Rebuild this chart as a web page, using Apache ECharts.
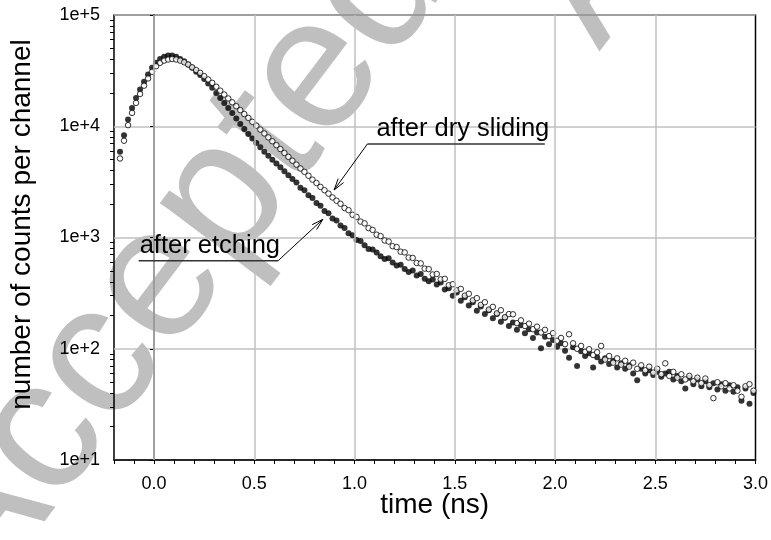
<!DOCTYPE html>
<html>
<head>
<meta charset="utf-8">
<script src="https://cdn.jsdelivr.net/npm/echarts@6/dist/echarts.min.js"></script>
<style>html,body{margin:0;padding:0;background:#fff;}#chart{width:771px;height:540px;}</style>
</head>
<body>
<div id="chart"></div>
<script>
// channel times (ns): first channel and channel width
var T0 = -0.17, DT = 0.02;
// after etching (filled dots), counts per channel
var etching = [5890,8318,11482,14620,17990,21380,25120,29170,33500,37150,
40270,42170,43150,43150,42170,40270,38460,35890,33500,30900,
28840,26610,24270,22130,19950,17990,16220,14620,13180,11750,
10470,9440,8510,7760,7080,6460,5890,5430,5010,4620,
4270,3940,3630,3350,3120,2800,2660,2400,2270,2040,
1930,1730,1650,1480,1420,1280,1220,1090,1050,950,
930,850,790,780,735,680,640,650,595,560,
570,520,490,505,455,470,425,405,420,378,
395,340,350,300,320,270,290,245,262,220,
240,205,222,188,205,175,190,160,172,148,
163,138,150,125,140,101,128,110,120,104,
112,96,83,103,70,95,86,91,68,84,
77,82,73,78,68,74,66,71,60,52,
66,60,64,58,62,56,60,62,53,57,
51,44,55,48,53,46,51,45,49,43,
48,42,47,41,45,34,44,32,40];
// after dry sliding (open circles), counts per channel
var drySliding = [5130,7410,10230,13180,16220,19500,23170,26920,30900,34670,
37150,38900,39810,40270,39810,38900,37580,35890,33880,31990,
30200,28180,26300,24550,22650,20890,19280,17780,16410,15140,
13960,12880,11890,10960,10120,9330,8610,7940,7330,6760,
6240,5750,5310,4900,4520,4170,3890,3590,3310,3090,
2850,2660,2480,2290,2140,2010,1840,1760,1600,1530,
1390,1340,1215,1170,1060,1030,940,920,835,820,
745,735,660,655,590,585,525,520,465,470,
420,425,372,380,335,345,300,312,272,285,
248,262,225,238,208,222,192,205,204,170,
180,160,168,150,158,140,148,130,138,118,
125,110,135,112,100,106,94,99,88,93,
106,80,86,75,82,72,78,69,75,66,
71,64,69,61,66,59,74,57,62,55,
59,53,57,51,55,49,54,47,36,50,
46,49,44,47,42,37,46,48,42];
var xTicks = [0, 0.5, 1.0, 1.5, 2.0, 2.5, 3.0];
var yMinor = [20,30,40,50,60,70,80,90,200,300,400,500,600,700,800,900,2000,3000,4000,5000,6000,7000,8000,9000,20000,30000,40000,50000,60000,70000,80000,90000];
var labelEtching = 'after etching';
var labelDry = 'after dry sliding';
var watermark = 'Accepted Manuscript';

function pairs(arr){ return arr.map(function(v,i){ return [+(T0 + i*DT).toFixed(3), v]; }); }

var FONT = '"Liberation Sans", Arial, sans-serif';
var chart = echarts.init(document.getElementById('chart'), null, {renderer:'canvas'});
var option = {
  backgroundColor: '#fff',
  animation: false,
  grid: {left: 111, right: 14, top: 15, bottom: 80, show: true, borderColor: '#000', borderWidth: 1.5, backgroundColor: 'transparent'},
  xAxis: {
    type: 'value', min: -0.2, max: 3.0, interval: 0.1,
    name: 'time (ns)', nameLocation: 'middle', nameGap: 31, nameMoveOverlap: false,
    nameTextStyle: {fontFamily: FONT, fontSize: 28, color: '#000'},
    axisLine: {onZero: false, lineStyle: {color: '#000', width: 1.5}},
    axisTick: {show: true, length: 4, lineStyle: {color: '#000'}},
    axisLabel: {margin: 15, fontFamily: FONT, fontSize: 18, color: '#000',
      formatter: function(v){ var r = Math.round(v*10)/10; return xTicks.some(function(t){return Math.abs(t-r)<1e-6;}) ? r.toFixed(1) : ''; }},
    splitLine: {show: false}
  },
  yAxis: [{
    type: 'log', min: 10, max: 100000, logBase: 10,
    name: 'number of counts per channel', nameLocation: 'middle', nameGap: 78,
    nameTextStyle: {fontFamily: FONT, fontSize: 28, color: '#000', padding: [0, 0, 0, 26]},
    axisLine: {lineStyle: {color: '#000', width: 1.5}},
    axisTick: {show: true, length: 4, lineStyle: {color: '#000'}},
    axisLabel: {margin: 14, fontFamily: FONT, fontSize: 18, color: '#000',
      formatter: function(v){ return '1e+' + Math.round(Math.log10(v)); }},
    splitLine: {show: true, lineStyle: {color: '#c0c0c0', width: 1.5}}
  },{
    type: 'log', min: 10, max: 100000, logBase: 10, position: 'left',
    axisLine: {show: false}, axisLabel: {show: false}, splitLine: {show: false},
    axisTick: {show: true, length: 4, customValues: yMinor, lineStyle: {color: '#000'}}
  }],
  series: [{
    name: labelEtching, type: 'scatter', data: pairs(etching),
    symbol: 'circle', symbolSize: 6, itemStyle: {color: '#000'}, z: 3,
    markLine: {
      silent: true, symbol: 'none', label: {show: false},
      lineStyle: {color: '#c0c0c0', width: 1.5, type: 'solid'},
      data: xTicks.filter(function(t){return t < 3;}).map(function(t){ return {xAxis: t}; })
    }
  },{
    name: labelDry, type: 'scatter', data: pairs(drySliding),
    symbol: 'circle', symbolSize: 5.5, itemStyle: {color: '#fff', borderColor: '#000', borderWidth: 1}, z: 4
  }]
};
chart.setOption(option);

// annotations anchored in data space
var annDry = {text: labelDry, lineStart: [1.064, 6924], lineEnd: [1.949, 6924], tip: [0.898, 2673], dx: 8};
var annEt = {text: labelEtching, lineStart: [0.619, 619], lineEnd: [-0.077, 619], tip: [0.842, 1458], dx: 0};
function px(p){ return chart.convertToPixel({gridIndex: 0}, p); }
function arrowEls(a){
  var s = px(a.lineStart), e = px(a.lineEnd), t = px(a.tip);
  var ang = Math.atan2(s[1]-t[1], s[0]-t[0]);
  var L = 12, sp = 0.28;
  var a1 = [t[0] + L*Math.cos(ang+sp), t[1] + L*Math.sin(ang+sp)];
  var a2 = [t[0] + L*Math.cos(ang-sp), t[1] + L*Math.sin(ang-sp)];
  var left = Math.min(s[0], e[0]);
  return [
    {type:'line', shape:{x1:s[0],y1:s[1],x2:e[0],y2:e[1]}, style:{stroke:'#333', lineWidth:1.5}, z: 10},
    {type:'line', shape:{x1:s[0],y1:s[1],x2:t[0],y2:t[1]}, style:{stroke:'#000', lineWidth:1}, z: 10},
    {type:'polyline', shape:{points:[a1, t, a2]}, style:{stroke:'#000', lineWidth:1, fill:null}, z: 10},
    {type:'text', x: left + 1 + a.dx, y: s[1] - 2, style:{text: a.text, font: '25.5px ' + FONT, fill:'#000', textVerticalAlign:'bottom', textAlign:'left'}, z: 10}
  ];
}
var els = arrowEls(annDry).concat(arrowEls(annEt));
var wmStyle = {text: watermark, font: '188px ' + FONT, fill: '#bfbfbf', textVerticalAlign: 'bottom'};
els.unshift({type:'text', x: 14, y: 632, rotation: 53*Math.PI/180, style: wmStyle, z: -10, silent: true});
els.unshift({type:'text', x: 633, y: 77, rotation: 53*Math.PI/180, style: wmStyle, z: -10, silent: true});
chart.setOption({graphic: {elements: els}});
</script>
</body>
</html>
